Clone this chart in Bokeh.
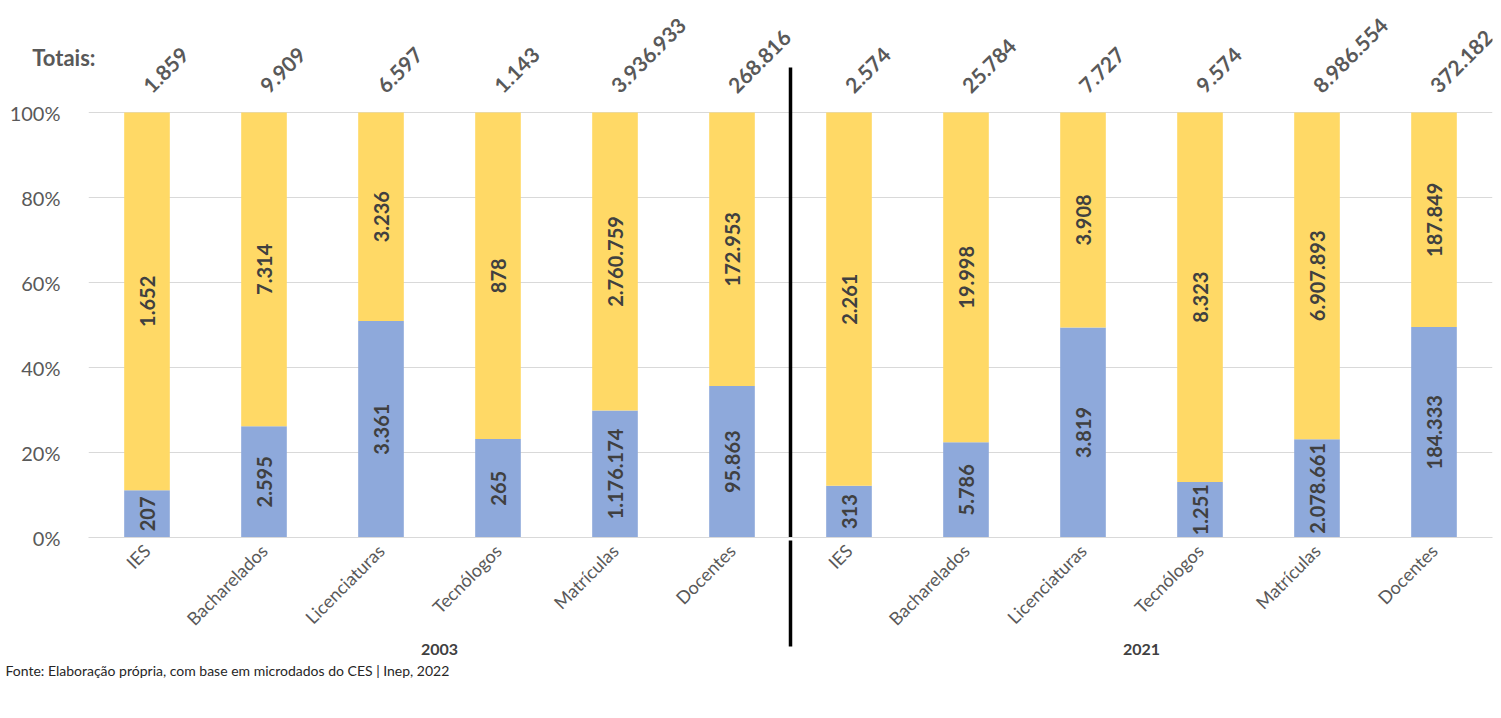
from math import pi
from bokeh.plotting import figure
from bokeh.models import (ColumnDataSource, FactorRange, Range1d, FixedTicker,
                          NumeralTickFormatter, LinearAxis, Title)
from bokeh.core.properties import value
from bokeh.embed import file_html
from bokeh.resources import INLINE

# ---------------- data ----------------
years = ["2003", "2021"]
categories = ["IES", "Bacharelados", "Licenciaturas", "Tecnólogos", "Matrículas", "Docentes"]
publicas_2003 = [207, 2595, 3361, 265, 1176174, 95863]
privadas_2003 = [1652, 7314, 3236, 878, 2760759, 172953]
publicas_2021 = [313, 5786, 3819, 1251, 2078661, 184333]
privadas_2021 = [2261, 19998, 3908, 8323, 6907893, 187849]
totais_2003 = [1859, 9909, 6597, 1143, 3936933, 268816]
totais_2021 = [2574, 25784, 7727, 9574, 8986554, 372182]
y_ticks = [0, 0.2, 0.4, 0.6, 0.8, 1.0]
source_text = "Fonte: Elaboração própria, com base em microdados do CES | Inep, 2022"

BLUE = "#8EA9DB"
YELLOW = "#FFD966"
FONT = "Lato"


def fmt(v):
    return f"{v:,}".replace(",", ".")


x = [(y, c) for y in years for c in categories]
pub = publicas_2003 + publicas_2021
priv = privadas_2003 + privadas_2021
tot = totais_2003 + totais_2021
pub_pct = [a / t for a, t in zip(pub, tot)]
priv_pct = [b / t for b, t in zip(priv, tot)]

src = ColumnDataSource(dict(
    x=x,
    pub=pub_pct,
    priv=priv_pct,
    pub_mid=[p / 2 for p in pub_pct],
    priv_mid=[p + q / 2 for p, q in zip(pub_pct, priv_pct)],
    pub_lbl=[fmt(v) for v in pub],
    priv_lbl=[fmt(v) for v in priv],
    tot_lbl=[fmt(v) for v in tot],
    tot_y=[1.055] * len(x),
))

x_range = FactorRange(*x, factor_padding=0, group_padding=0, range_padding=0,
                      subgroup_padding=0)

p = figure(width=1501, height=718, frame_width=1404, frame_height=532,
           x_range=x_range, y_range=Range1d(0, 532 / 425),
           output_backend="svg", toolbar_location=None,
           min_border_left=88, min_border_right=9, min_border_top=5,
           min_border_bottom=0, outline_line_color=None,
           background_fill_color="white", border_fill_color="white")

p.vbar_stack(["pub", "priv"], x="x", width=0.39, color=[BLUE, YELLOW],
             line_color=None, source=src, legend_label=["Públicas", "Privadas"])

# segment labels
seg_kw = dict(angle=pi / 2, text_align="center", text_baseline="middle",
              text_font=value(FONT), text_font_style="bold",
              text_font_size="20px", text_color="#404040", source=src)
p.text(x="x", y="pub_mid", text="pub_lbl", **seg_kw)
p.text(x="x", y="priv_mid", text="priv_lbl", **seg_kw)

# totals
p.text(x="x", y="tot_y", text="tot_lbl", angle=pi / 4, x_offset=0,
       text_align="left", text_baseline="middle", text_font=value(FONT),
       text_font_style="bold", text_font_size="21px", text_color="#595959",
       source=src)

# black separator between the two years (upper part, inside the plot)
p.segment(x0=[(years[1], categories[0], -0.5)], y0=[0],
          x1=[(years[1], categories[0], -0.5)], y1=[1.106],
          line_color="black", line_width=3.5)

# axes
p.ygrid.ticker = FixedTicker(ticks=y_ticks)
p.ygrid.grid_line_color = "#D9D9D9"
p.xgrid.grid_line_color = None

p.yaxis.ticker = FixedTicker(ticks=y_ticks)
p.yaxis.formatter = NumeralTickFormatter(format="0%")
p.yaxis.axis_line_color = None
p.yaxis.major_tick_line_color = None
p.yaxis.minor_tick_line_color = None
p.yaxis.major_label_standoff = 22
p.yaxis.major_label_text_font = FONT
p.yaxis.major_label_text_font_size = "20px"
p.yaxis.major_label_text_color = "#595959"

# "Totais:" caption as a tick label of a secondary left axis
tot_axis = LinearAxis(ticker=FixedTicker(ticks=[1.129]),
                      major_label_overrides={1.129: "Totais:"},
                      axis_line_color=None, major_tick_line_color=None,
                      minor_tick_line_color=None, major_label_standoff=-95,
                      major_label_text_font=FONT, major_label_text_font_style="bold",
                      major_label_text_font_size="22px",
                      major_label_text_color="#595959")
p.add_layout(tot_axis, "left")

xa = p.xaxis[0]
xa.axis_line_color = "#D9D9D9"
xa.major_tick_line_color = None
xa.minor_tick_line_color = None
xa.major_label_orientation = pi / 4
xa.major_label_standoff = 4
xa.major_label_text_font = FONT
xa.major_label_text_font_size = "18px"
xa.major_label_text_color = "#595959"
xa.group_text_font = FONT
xa.group_text_font_size = "16px"
xa.group_text_font_style = "bold"
xa.group_text_color = "#404040"
xa.separator_line_color = "black"
xa.separator_line_width = 3.5

# source note
p.add_layout(Title(text=source_text, align="left", offset=-83, standoff=3,
                   text_font=FONT, text_font_size="14px",
                   text_font_style="normal", text_color="#262626"), "below")

# legend
lg = p.legend[0]
p.center.remove(lg)
p.add_layout(lg, "below")
lg.location = "top"
lg.orientation = "horizontal"
lg.border_line_color = None
lg.background_fill_alpha = 0
lg.padding = 0
lg.margin = 0
lg.spacing = 18
lg.glyph_width = 11
lg.glyph_height = 11
lg.label_standoff = 6
lg.label_text_font = FONT
lg.label_text_font_size = "19px"
lg.label_text_color = "#595959"

open("out.html", "w").write(file_html(p, INLINE))
